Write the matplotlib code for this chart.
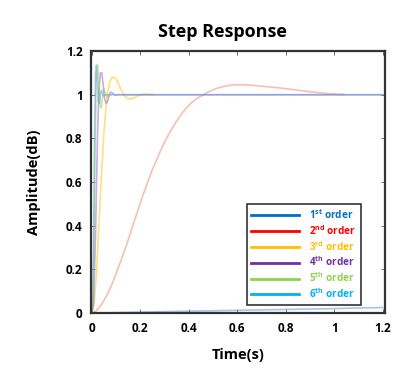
import matplotlib
matplotlib.use('Agg')
import matplotlib.pyplot as plt

plt.rcParams['font.family'] = ['Open Sans', 'DejaVu Sans']
plt.rcParams['mathtext.fontset'] = 'custom'
plt.rcParams['mathtext.bf'] = 'Open Sans:bold'
plt.rcParams['mathtext.rm'] = 'Open Sans'

# values
t1 = [0, 0.2, 0.4, 0.6, 0.8, 1.0, 1.2]
y1 = [0, 0.005, 0.009, 0.013, 0.017, 0.021, 0.026]

t2 = [0, 0.02, 0.041, 0.062, 0.083, 0.104, 0.124, 0.145, 0.165, 0.186, 0.207,
      0.228, 0.248, 0.269, 0.289, 0.31, 0.331, 0.352, 0.372, 0.392, 0.413,
      0.437, 0.461, 0.485, 0.51, 0.537, 0.565, 0.592, 0.62, 0.665, 0.711,
      0.76, 0.807, 0.85, 0.89, 0.94, 0.986, 1.04]
y2 = [0, 0.012, 0.04, 0.08, 0.13, 0.19, 0.25, 0.315, 0.385, 0.455, 0.525,
      0.59, 0.65, 0.705, 0.756, 0.803, 0.845, 0.882, 0.914, 0.942, 0.965,
      0.985, 1.0, 1.015, 1.027, 1.036, 1.042, 1.045, 1.046, 1.043, 1.038,
      1.033, 1.027, 1.021, 1.015, 1.009, 1.004, 1.001]

t3 = [0, 0.01, 0.02, 0.03, 0.04, 0.05, 0.064, 0.075, 0.085, 0.095, 0.105, 0.115,
      0.13, 0.145, 0.16, 0.175, 0.19, 0.21, 0.23, 0.25]
y3 = [0, 0.04, 0.18, 0.4, 0.62, 0.82, 1.0, 1.06, 1.08, 1.08, 1.065, 1.04,
      1.005, 0.985, 0.98, 0.985, 0.995, 1.002, 1.003, 1.0]

t4 = [0, 0.008, 0.016, 0.024, 0.03, 0.036, 0.042, 0.048, 0.054, 0.06, 0.066,
      0.072, 0.078, 0.084, 0.09, 0.1, 0.11, 1.2]
y4 = [0, 0.05, 0.35, 0.8, 1.02, 1.1, 1.1, 1.04, 0.98, 0.96, 0.97, 0.995,
      1.012, 1.01, 1.003, 0.998, 1.0, 1.0]

t5 = [0, 0.005, 0.01, 0.015, 0.02, 0.025, 0.03, 0.035, 0.04, 0.045, 0.05,
      0.055, 0.065, 0.08]
y5 = [0, 0.05, 0.35, 0.8, 1.1, 1.14, 1.05, 0.95, 0.94, 0.99, 1.03, 1.01,
      0.99, 1.0]

t6 = [0, 0.004, 0.008, 0.012, 0.016, 0.02, 0.024, 0.028, 0.032, 0.036, 0.04,
      0.045, 0.05, 0.06, 1.2]
y6 = [0, 0.02, 0.3, 0.8, 1.1, 1.135, 1.05, 0.97, 0.96, 1.01, 1.02, 1.0,
      0.995, 1.0, 1.0]

labels = [r'1$^{\mathbf{st}}$ order', r'2$^{\mathbf{nd}}$ order', r'3$^{\mathbf{rd}}$ order',
          r'4$^{\mathbf{th}}$ order', r'5$^{\mathbf{th}}$ order', r'6$^{\mathbf{th}}$ order']
colors = ['#0070C0', '#FF0000', '#FFC000', '#7030A0', '#92D050', '#00B0F0']
curve_colors = ['#4a8fd0', '#f08060', '#ffc000', '#9060c0', '#92D050', '#5a9ee0']

fig = plt.figure(figsize=(4.15, 3.81), dpi=100)
ax = fig.add_axes([0.219, 0.178, 0.709, 0.688])

series = [(t1, y1), (t2, y2), (t3, y3), (t4, y4), (t5, y5), (t6, y6)]
for (tt, yy), c in zip(series, curve_colors):
    ax.plot(tt, yy, color=c, alpha=0.5, lw=1.2)

# legend handles in full colour
handles = [plt.Line2D([], [], color=c, lw=2) for c in colors]
leg = ax.legend(handles, labels, loc='upper left', bbox_to_anchor=(0.53, 0.418),
                fontsize=7.2, frameon=True, fancybox=False, handlelength=4.8,
                labelspacing=0.2, borderpad=0.45, handletextpad=1.0,
                borderaxespad=0)
leg.get_frame().set_edgecolor('black')
leg.get_frame().set_linewidth(1.2)
for txt, c in zip(leg.get_texts(), colors):
    txt.set_color(c)
    txt.set_fontweight('bold')

ax.set_xlim(-0.003, 1.21)
ax.set_ylim(0, 1.2)
ax.set_xticks([0, 0.2, 0.4, 0.6, 0.8, 1.0, 1.2])
ax.set_xticklabels(['0', '0.2', '0.4', '0.6', '0.8', '1', '1.2'])
ax.set_yticks([0, 0.2, 0.4, 0.6, 0.8, 1.0, 1.2])
ax.set_yticklabels(['0', '0.2', '0.4', '0.6', '0.8', '1', '1.2'])
ax.tick_params(direction='in', length=3, width=0.6, colors='#555555',
               labelcolor='black', labelsize=8.5, top=True, right=True, pad=6)
for lab in ax.get_xticklabels() + ax.get_yticklabels():
    lab.set_fontweight('bold')
for sp in ax.spines.values():
    sp.set_linewidth(1.6)
    sp.set_color('#333333')

fig.text(0.535, 0.915, 'Step Response', fontsize=13, fontweight='bold',
         ha='center', va='center')
ax.set_xlabel('Time(s)', fontsize=10.5, fontweight='bold', labelpad=10)
ax.set_ylabel('Amplitude(dB)', fontsize=10.5, fontweight='bold', labelpad=18)

fig.savefig('out.png', dpi=100)
